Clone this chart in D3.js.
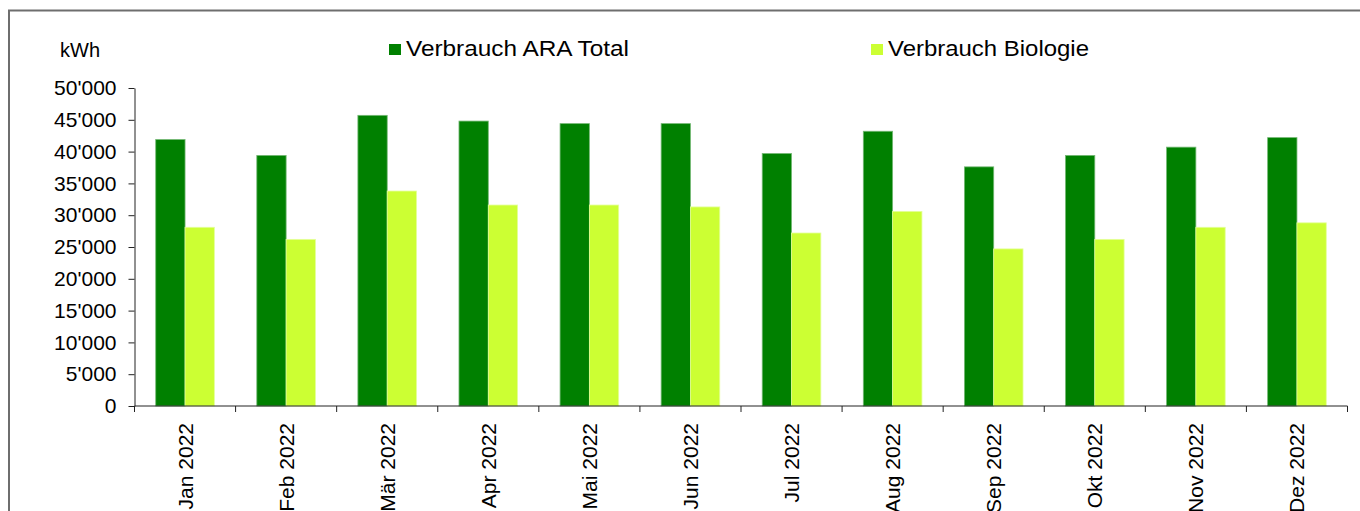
<!DOCTYPE html>
<html>
<head>
<meta charset="utf-8">
<script src="https://cdn.jsdelivr.net/npm/d3@7"></script>
<style>
  body { margin: 0; background: #fff; }
  svg { display: block; font-family: "Liberation Sans", Arial, sans-serif; }
</style>
</head>
<body>
<svg id="chart" width="1360" height="511"></svg>
<script>
// data
let months = ["Jan 2022", "Feb 2022", "Mär 2022", "Apr 2022", "Mai 2022", "Jun 2022",
              "Jul 2022", "Aug 2022", "Sep 2022", "Okt 2022", "Nov 2022", "Dez 2022"];
let seriesNames = ["Verbrauch ARA Total", "Verbrauch Biologie"];
let totalValues = [41900, 39400, 45700, 44800, 44400, 44400, 39700, 43200, 37600, 39400, 40700, 42200];
let bioValues   = [28100, 26200, 33800, 31600, 31600, 31300, 27200, 30600, 24700, 26200, 28100, 28800];
let yTicks = [0, 5000, 10000, 15000, 20000, 25000, 30000, 35000, 40000, 45000, 50000];
let colors = ["#008000", "#ccff33"];
let strokes = ["#74b874", "#e4ff9a"];

let svg = d3.select("#chart");

// outer frame
svg.append("rect")
    .attr("x", 9).attr("y", 10.5)
    .attr("width", 1400).attr("height", 600)
    .attr("fill", "none")
    .attr("stroke", "#6e6e6e")
    .attr("stroke-width", 2);

let margin = {left: 134.5, right: 1347.5, top: 88, bottom: 406};

// scales
let x = d3.scaleBand().domain(months).range([margin.left, margin.right]).padding(0);
let inner = d3.scaleBand().domain(seriesNames)
    .range([x.bandwidth() * 0.21, x.bandwidth() * 0.79]).padding(0);
let y = d3.scaleLinear().domain([0, 50000]).range([margin.bottom, margin.top]);

let locale = d3.formatLocale({decimal: ".", thousands: "'", grouping: [3], currency: ["", ""]});
let fmt = locale.format(",");

// bars
let rows = months.map((m, i) => ({month: m, vals: [totalValues[i], bioValues[i]]}));
let groups = svg.selectAll("g.grp").data(rows).enter().append("g")
    .attr("class", "grp")
    .attr("transform", d => "translate(" + x(d.month) + ",0)");

groups.selectAll("rect").data(d => d.vals.map((v, j) => ({v: v, s: j}))).enter().append("rect")
    .attr("x", d => inner(seriesNames[d.s]))
    .attr("y", d => y(d.v))
    .attr("width", inner.bandwidth())
    .attr("height", d => y(0) - y(d.v))
    .attr("fill", d => colors[d.s])
    .attr("stroke", d => strokes[d.s])
    .attr("stroke-width", 0.8);

// y axis
let yAxis = svg.append("g")
    .attr("transform", "translate(" + margin.left + ",0)")
    .call(d3.axisLeft(y).tickValues(yTicks).tickFormat(fmt).tickSize(6).tickPadding(12).tickSizeOuter(0));
yAxis.selectAll("text").attr("font-size", "21px").attr("fill", "#000").attr("font-family", "Liberation Sans, Arial, sans-serif");
yAxis.selectAll("line, path").attr("stroke", "#222");

// x axis: ticks at band boundaries
let xAxisG = svg.append("g");
xAxisG.append("line")
    .attr("x1", margin.left).attr("x2", margin.right)
    .attr("y1", y(0)).attr("y2", y(0))
    .attr("stroke", "#222");
let bounds = months.map(m => x(m)).concat([x(months[months.length - 1]) + x.bandwidth()]);
xAxisG.selectAll("line.tk").data(bounds).enter().append("line")
    .attr("class", "tk")
    .attr("x1", d => d).attr("x2", d => d)
    .attr("y1", y(0)).attr("y2", y(0) + 6)
    .attr("stroke", "#222");
xAxisG.selectAll("text").data(months).enter().append("text")
    .attr("transform", d => "translate(" + (x(d) + x.bandwidth() / 2 + 7.5) + "," + (y(0) + 17) + ") rotate(-90)")
    .attr("text-anchor", "end")
    .attr("font-size", "21px")
    .attr("fill", "#000")
    .text(d => d);

// unit label
svg.append("text")
    .attr("x", 60).attr("y", 57)
    .attr("font-size", "20px")
    .attr("fill", "#000")
    .text("kWh");

// legend
let legendX = [389, 871];
let legendLen = [223, 201];
let legend = svg.selectAll("g.leg").data(seriesNames).enter().append("g")
    .attr("class", "leg")
    .attr("transform", (d, i) => "translate(" + legendX[i] + ",44)");
legend.append("rect")
    .attr("width", 12).attr("height", 11)
    .attr("fill", (d, i) => colors[i]);
legend.append("text")
    .attr("x", 17).attr("y", 12)
    .attr("font-size", "22.5px")
    .attr("fill", "#000")
    .attr("textLength", (d, i) => legendLen[i])
    .attr("lengthAdjust", "spacingAndGlyphs")
    .text(d => d);
</script>
</body>
</html>
